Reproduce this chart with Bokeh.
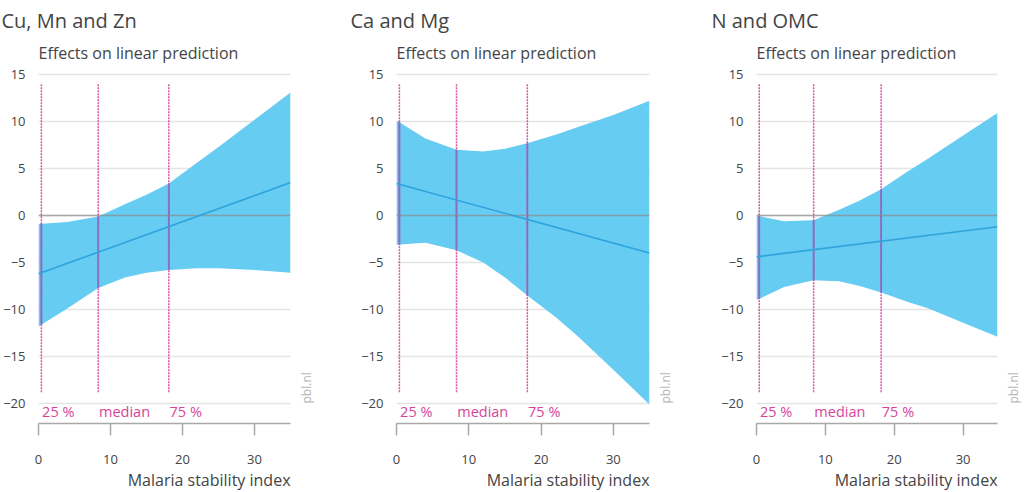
import numpy as np
from bokeh.plotting import figure
from bokeh.models import FixedTicker, Range1d, Title, LinearAxis
from bokeh.layouts import row
from bokeh.embed import file_html
from bokeh.resources import INLINE
from bokeh.core.properties import value

# ---------------- data ----------------
panel_titles = ["Cu, Mn and Zn", "Ca and Mg", "N and OMC"]
subtitle = "Effects on linear prediction"
x_axis_label = "Malaria stability index"
source_label = "pbl.nl"
x_ticks = [0, 10, 20, 30]
y_ticks = [-20, -15, -10, -5, 0, 5, 10, 15]
quantile_x = [0.4, 8.3, 18.1]
quantile_labels = ["25 %", "median", "75 %"]
quantile_line_top = 14.0
quantile_line_bottom = -18.8

band_x = [0, 4, 8.3, 12, 15, 18.1, 22, 25, 30, 35]
cu_upper = [-0.9, -0.7, -0.1, 1.2, 2.2, 3.4, 5.6, 7.3, 10.2, 13.1]
cu_lower = [-11.8, -9.9, -7.7, -6.6, -6.1, -5.8, -5.6, -5.6, -5.8, -6.1]
ca_upper = [10.1, 8.2, 7.0, 6.8, 7.1, 7.7, 8.6, 9.4, 10.7, 12.2]
ca_lower = [-3.1, -2.9, -3.7, -5.0, -6.6, -8.5, -10.8, -12.8, -16.4, -20.1]
n_upper = [0.0, -0.6, -0.5, 0.6, 1.6, 2.8, 4.7, 6.1, 8.5, 10.9]
n_lower = [-9.0, -7.6, -6.9, -7.0, -7.5, -8.2, -9.2, -9.9, -11.4, -12.9]

mean_x = [0, 35]
cu_mean = [-6.2, 3.5]
ca_mean = [3.4, -4.0]
n_mean = [-4.4, -1.2]

panels = [
    (cu_upper, cu_lower, cu_mean),
    (ca_upper, ca_lower, ca_mean),
    (n_upper, n_lower, n_mean),
]

# ---------------- style ----------------
FONT = "Open Sans"
TEXT = "#444444"
BAND = "#66ccf2"
MEAN = "#2ea3dc"
MAGENTA = "#d6449a"
INBAND = "#8a6cc4"
GRID = "#e4e4e4"
AXIS = "#a8a8a8"

fig_widths = [350, 361, 322]
left_borders = [37, 46, 45]
right_borders = [60, 62, 24]
title_offsets = [-37, -46, -45]
Y0, Y1 = -22.13, 18.62
SUBTITLE_Y = 17.27

figs = []
for i, ((up, lo, mn), title) in enumerate(zip(panels, panel_titles)):
    p = figure(width=fig_widths[i], height=492, output_backend="svg", toolbar_location=None,
               x_range=Range1d(0, 35), y_range=Range1d(Y0, Y1),
               min_border_left=left_borders[i], min_border_right=right_borders[i],
               min_border_top=40, min_border_bottom=69)
    p.outline_line_color = None
    p.background_fill_color = "white"
    p.border_fill_color = "white"

    p.xgrid.visible = False
    p.ygrid.ticker = FixedTicker(ticks=y_ticks)
    p.ygrid.grid_line_color = GRID
    p.ygrid.grid_line_width = 1.5

    # band
    p.varea(x=band_x, y1=lo, y2=up, fill_color=BAND, fill_alpha=1.0)
    # quantile lines (dotted outside band)
    for qx in quantile_x:
        p.line(x=[qx, qx], y=[quantile_line_bottom, quantile_line_top],
               line_color=MAGENTA, line_width=1.5, line_dash="2 1", line_alpha=0.9)
    # in-band part of quantile lines
    y_lo = np.interp(quantile_x, band_x, lo)
    y_up = np.interp(quantile_x, band_x, up)
    p.segment(x0=quantile_x, y0=y_lo, x1=quantile_x, y1=y_up,
              line_color=INBAND, line_width=1.8)
    # zero line
    p.line(x=[0, 35], y=[0, 0], line_color="#8c8c8c", line_width=1.6, line_alpha=0.7)
    # mean line
    p.line(x=mean_x, y=mn, line_color=MEAN, line_width=1.6)

    # quantile labels
    p.text(x=[q + 0.1 for q in quantile_x], y=[-20.9] * 3, text=quantile_labels,
           text_color=MAGENTA, text_font=value(FONT), text_font_size="14.5px",
           text_baseline="middle", text_align="left")
    # subtitle inside the frame, above the top gridline
    p.text(x=[0], y=[SUBTITLE_Y], text=[subtitle], text_color=TEXT,
           text_font=value(FONT), text_font_size="16px",
           text_baseline="middle", text_align="left")

    # axes
    p.yaxis.ticker = FixedTicker(ticks=y_ticks)
    p.yaxis.axis_line_color = None
    p.yaxis.major_tick_line_color = None
    p.yaxis.minor_tick_line_color = None
    p.yaxis.major_label_standoff = 7
    p.yaxis.major_label_text_font = FONT
    p.yaxis.major_label_text_font_size = "13px"
    p.yaxis.major_label_text_color = TEXT

    p.xaxis.ticker = FixedTicker(ticks=x_ticks)
    p.xaxis.axis_line_color = AXIS
    p.xaxis.axis_line_width = 1.5
    p.xaxis.major_tick_line_color = AXIS
    p.xaxis.major_tick_line_width = 1.5
    p.xaxis.major_tick_out = 12
    p.xaxis.major_tick_in = 0
    p.xaxis.minor_tick_line_color = None
    p.xaxis.major_label_standoff = 19
    p.xaxis.major_label_text_font = FONT
    p.xaxis.major_label_text_font_size = "13px"
    p.xaxis.major_label_text_color = TEXT

    # source tag on the right as an axis label (reads bottom to top)
    rax = LinearAxis(ticker=FixedTicker(ticks=[-20]),
                     major_label_overrides={-20: source_label},
                     major_label_orientation=np.pi / 2,
                     axis_line_color=None, major_tick_line_color=None,
                     minor_tick_line_color=None, major_label_standoff=10,
                     major_label_text_font=FONT, major_label_text_font_size="12px",
                     major_label_text_color="#b5b5b5")
    p.add_layout(rax, "right")

    # panel title and x-axis title
    p.add_layout(Title(text=title, align="left", offset=title_offsets[i], standoff=10,
                       vertical_align="top",
                       text_font=FONT, text_font_size="20px", text_font_style="normal",
                       text_color=TEXT), "above")
    p.add_layout(Title(text=x_axis_label, align="right", offset=0, standoff=0,
                       text_font=FONT, text_font_size="16px", text_font_style="normal",
                       text_color=TEXT), "below")
    figs.append(p)

layout = row(*figs, spacing=0)
open("out.html", "w").write(file_html(layout, INLINE))
